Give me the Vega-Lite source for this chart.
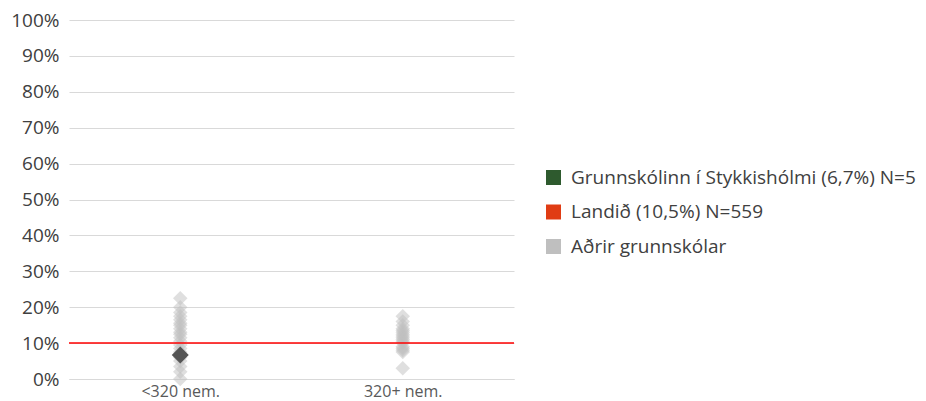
{
  "$schema": "https://vega.github.io/schema/vega-lite/v6.json",
  "width": 445,
  "height": 359,
  "autosize": "none",
  "padding": {"left": 69, "top": 20, "right": 412, "bottom": 22},
  "background": "white",
  "config": {
    "font": "Open Sans",
    "view": {"stroke": null}
  },
  "datasets": {
    "others": [
      {"group": "<320 nem.", "value": 0.0, "series": "Aðrir grunnskólar"},
      {"group": "<320 nem.", "value": 2.0, "series": "Aðrir grunnskólar"},
      {"group": "<320 nem.", "value": 3.5, "series": "Aðrir grunnskólar"},
      {"group": "<320 nem.", "value": 5.0, "series": "Aðrir grunnskólar"},
      {"group": "<320 nem.", "value": 6.0, "series": "Aðrir grunnskólar"},
      {"group": "<320 nem.", "value": 7.5, "series": "Aðrir grunnskólar"},
      {"group": "<320 nem.", "value": 8.5, "series": "Aðrir grunnskólar"},
      {"group": "<320 nem.", "value": 9.5, "series": "Aðrir grunnskólar"},
      {"group": "<320 nem.", "value": 10.5, "series": "Aðrir grunnskólar"},
      {"group": "<320 nem.", "value": 11.5, "series": "Aðrir grunnskólar"},
      {"group": "<320 nem.", "value": 12.5, "series": "Aðrir grunnskólar"},
      {"group": "<320 nem.", "value": 13.0, "series": "Aðrir grunnskólar"},
      {"group": "<320 nem.", "value": 14.0, "series": "Aðrir grunnskólar"},
      {"group": "<320 nem.", "value": 15.0, "series": "Aðrir grunnskólar"},
      {"group": "<320 nem.", "value": 15.5, "series": "Aðrir grunnskólar"},
      {"group": "<320 nem.", "value": 16.5, "series": "Aðrir grunnskólar"},
      {"group": "<320 nem.", "value": 17.5, "series": "Aðrir grunnskólar"},
      {"group": "<320 nem.", "value": 18.5, "series": "Aðrir grunnskólar"},
      {"group": "<320 nem.", "value": 20.0, "series": "Aðrir grunnskólar"},
      {"group": "<320 nem.", "value": 22.5, "series": "Aðrir grunnskólar"},
      {"group": "320+ nem.", "value": 3.0, "series": "Aðrir grunnskólar"},
      {"group": "320+ nem.", "value": 7.5, "series": "Aðrir grunnskólar"},
      {"group": "320+ nem.", "value": 8.0, "series": "Aðrir grunnskólar"},
      {"group": "320+ nem.", "value": 8.5, "series": "Aðrir grunnskólar"},
      {"group": "320+ nem.", "value": 9.0, "series": "Aðrir grunnskólar"},
      {"group": "320+ nem.", "value": 10.0, "series": "Aðrir grunnskólar"},
      {"group": "320+ nem.", "value": 10.5, "series": "Aðrir grunnskólar"},
      {"group": "320+ nem.", "value": 11.0, "series": "Aðrir grunnskólar"},
      {"group": "320+ nem.", "value": 11.5, "series": "Aðrir grunnskólar"},
      {"group": "320+ nem.", "value": 12.0, "series": "Aðrir grunnskólar"},
      {"group": "320+ nem.", "value": 12.5, "series": "Aðrir grunnskólar"},
      {"group": "320+ nem.", "value": 13.0, "series": "Aðrir grunnskólar"},
      {"group": "320+ nem.", "value": 13.5, "series": "Aðrir grunnskólar"},
      {"group": "320+ nem.", "value": 14.0, "series": "Aðrir grunnskólar"},
      {"group": "320+ nem.", "value": 15.0, "series": "Aðrir grunnskólar"},
      {"group": "320+ nem.", "value": 16.0, "series": "Aðrir grunnskólar"},
      {"group": "320+ nem.", "value": 17.5, "series": "Aðrir grunnskólar"}
    ],
    "school": [
      {"group": "<320 nem.", "value": 6.7}
    ],
    "national": [
      {"value": 10.0}
    ]
  },
  "layer": [
    {
      "data": {"name": "others"},
      "mark": {"type": "point", "shape": "diamond", "filled": true, "size": 210, "opacity": 0.5},
      "encoding": {
        "x": {
          "field": "group", "type": "nominal", "sort": ["<320 nem.", "320+ nem."],
          "scale": {"domain": ["<320 nem.", "320+ nem."], "paddingInner": 0, "paddingOuter": 0},
          "axis": {
            "title": null, "labelAngle": 0, "ticks": false, "labelFontSize": 16,
            "labelColor": "#595959", "domainColor": "#d9d9d9", "labelPadding": 4
          }
        },
        "y": {
          "field": "value", "type": "quantitative",
          "scale": {"domain": [0, 100], "nice": false},
          "axis": {
            "title": null, "values": [0, 10, 20, 30, 40, 50, 60, 70, 80, 90, 100],
            "labelExpr": "datum.value + '%'", "ticks": false, "domain": false,
            "labelOverlap": false,
            "gridColor": "#d9d9d9", "labelFontSize": 19, "labelColor": "#404040",
            "labelPadding": 10
          }
        },
        "color": {
          "field": "series", "type": "nominal",
          "scale": {
            "domain": ["Grunnskólinn í Stykkishólmi (6,7%) N=5", "Landið (10,5%) N=559", "Aðrir grunnskólar"],
            "range": ["#2e5a2e", "#e03c14", "#bfbfbf"]
          },
          "legend": {
            "title": null, "orient": "none", "legendX": 475, "legendY": 148,
            "symbolType": "square", "symbolSize": 225, "symbolOpacity": 1,
            "symbolStrokeWidth": 0, "labelFontSize": 19, "labelColor": "#404040",
            "labelLimit": 0, "rowPadding": 14.5, "labelOffset": 8
          }
        }
      }
    },
    {
      "data": {"name": "national"},
      "mark": {"type": "rule", "color": "#ff0000", "strokeWidth": 1.5},
      "encoding": {
        "y": {
          "field": "value", "type": "quantitative",
          "axis": {
            "title": null, "values": [0, 10, 20, 30, 40, 50, 60, 70, 80, 90, 100],
            "labelExpr": "datum.value + '%'", "ticks": false, "domain": false,
            "labelOverlap": false,
            "gridColor": "#d9d9d9", "labelFontSize": 19, "labelColor": "#404040",
            "labelPadding": 10
          }
        }
      }
    },
    {
      "data": {"name": "school"},
      "mark": {"type": "point", "shape": "diamond", "filled": true, "size": 289, "opacity": 1, "color": "#555555"},
      "encoding": {
        "x": {
          "field": "group", "type": "nominal",
          "axis": {
            "title": null, "labelAngle": 0, "ticks": false, "labelFontSize": 16,
            "labelColor": "#595959", "domainColor": "#d9d9d9", "labelPadding": 4
          }
        },
        "y": {
          "field": "value", "type": "quantitative",
          "axis": {
            "title": null, "values": [0, 10, 20, 30, 40, 50, 60, 70, 80, 90, 100],
            "labelExpr": "datum.value + '%'", "ticks": false, "domain": false,
            "labelOverlap": false,
            "gridColor": "#d9d9d9", "labelFontSize": 19, "labelColor": "#404040",
            "labelPadding": 10
          }
        }
      }
    }
  ]
}
